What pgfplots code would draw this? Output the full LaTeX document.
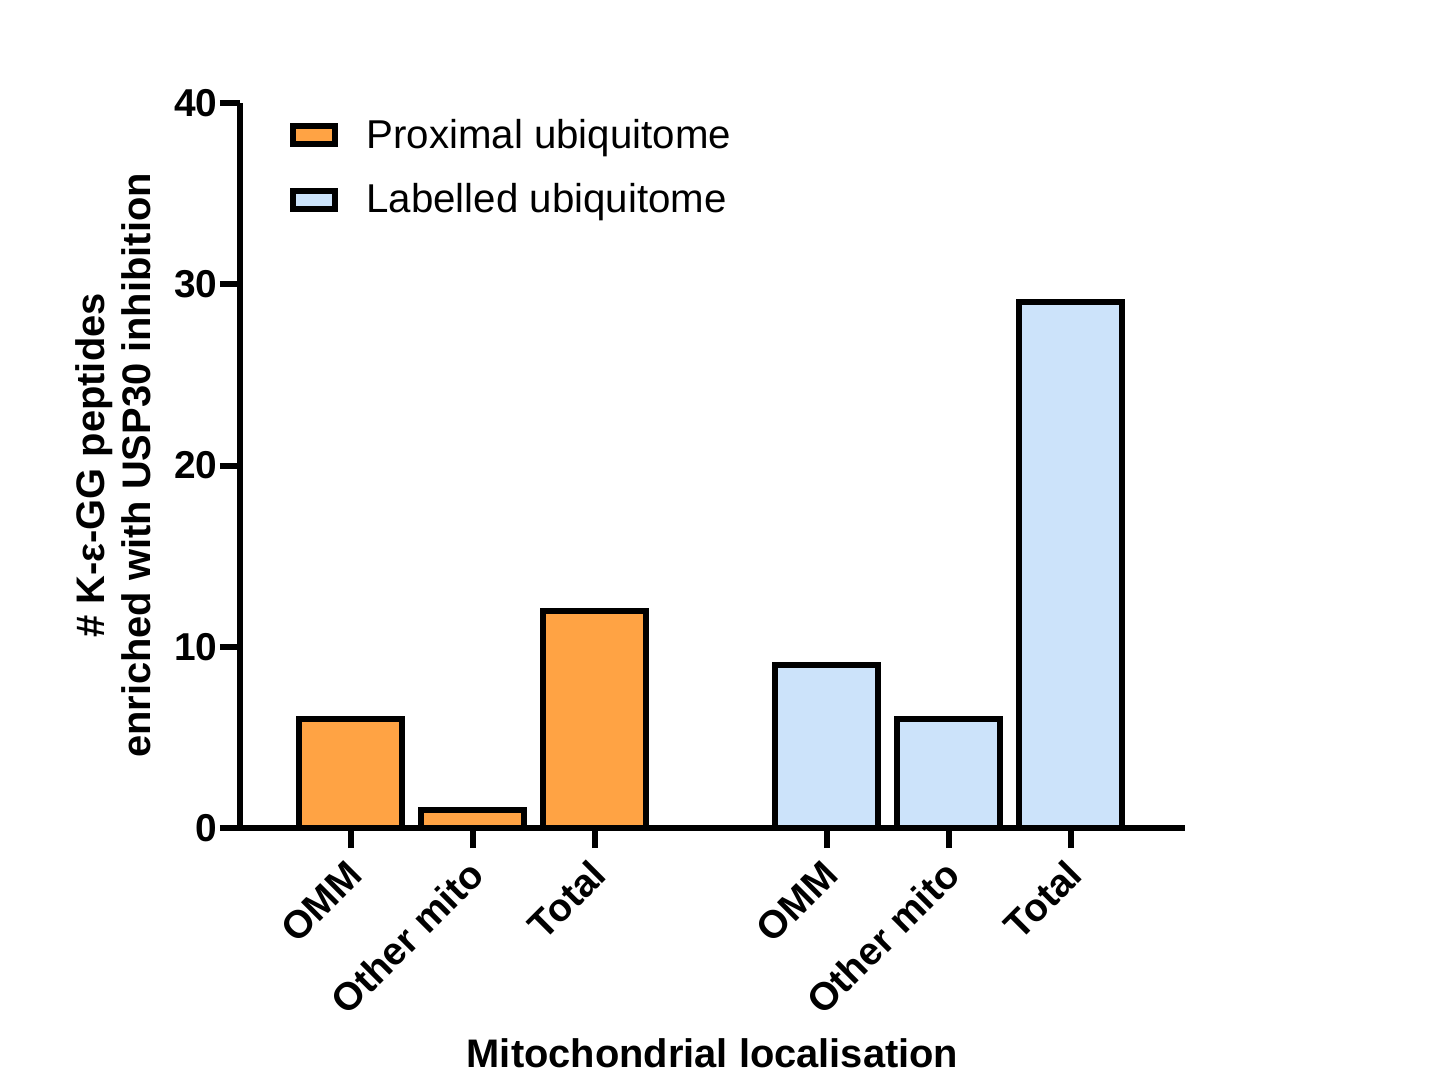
\documentclass[border=0pt]{standalone}
\usepackage{fontspec}
\setmainfont{Liberation Sans}
\usepackage{pgfplots}
\pgfplotsset{compat=1.18}
\definecolor{orangebar}{HTML}{FFA344}
\definecolor{bluebar}{HTML}{CCE3FA}
\begin{document}
\begin{tikzpicture}
\useasboundingbox (-120bp,-123.5bp) rectangle (603.5bp,414bp);
\begin{axis}[
  at={(0,0)}, anchor=south west,
  scale only axis,
  width=472.5bp, height=362.5bp,
  xmin=-0.908, xmax=6.838,
  ymin=0, ymax=40,
  ytick={0,10,20,30,40},
  xtick={0,1,2,3.9,4.9,5.9},
  xticklabels={OMM,Other mito,Total,OMM,Other mito,Total},
  axis x line*=bottom, axis y line*=left,
  axis line style={-, line width=3bp},
  axis on top,
  tick align=outside,
  major tick length=10bp,
  every tick/.style={black, line width=3bp},
  /pgf/number format/assume math mode=true,
  yticklabel style={font=\bfseries\fontsize{19.5}{20}\selectfont, inner sep=1bp},
  xticklabel shift=12bp,
  xticklabel style={font=\bfseries\fontsize{19.5}{20}\selectfont, rotate=45, anchor=east, inner sep=0bp, xshift=3bp},
  xlabel={Mitochondrial localisation},
  xlabel style={font=\bfseries\fontsize{20}{24}\selectfont, at={(axis description cs:0.5,-0.331)}, anchor=base},
  ylabel={\# K-ε-GG peptides\\enriched with USP30 inhibition},
  ylabel style={font=\bfseries\fontsize{20}{23.5}\selectfont, align=center, at={(axis description cs:-0.134,0.5)}, anchor=center, rotate=0},
  legend style={at={(axis description cs:0.053,0.978)}, anchor=north west, draw=none, fill=none,
    font=\fontsize{20.2}{24}\selectfont, row sep=16bp, inner sep=0pt,
    nodes={inner sep=0pt}},
  legend cell align=left,
  legend image code/.code={\draw[#1, line width=3bp] (0bp,-4.5bp) rectangle (21bp,4.5bp);},
]
\addplot[ybar, bar width=0.845, bar shift=0pt, fill=orangebar, draw=black, line width=3bp]
  coordinates {(0,6) (1,1) (2,12)};
\addlegendentry{\hspace{14bp}Proximal ubiquitome}
\addplot[ybar, bar width=0.845, bar shift=0pt, fill=bluebar, draw=black, line width=3bp]
  coordinates {(3.9,9) (4.9,6) (5.9,29)};
\addlegendentry{\hspace{14bp}Labelled ubiquitome}
\end{axis}
\end{tikzpicture}
\end{document}
